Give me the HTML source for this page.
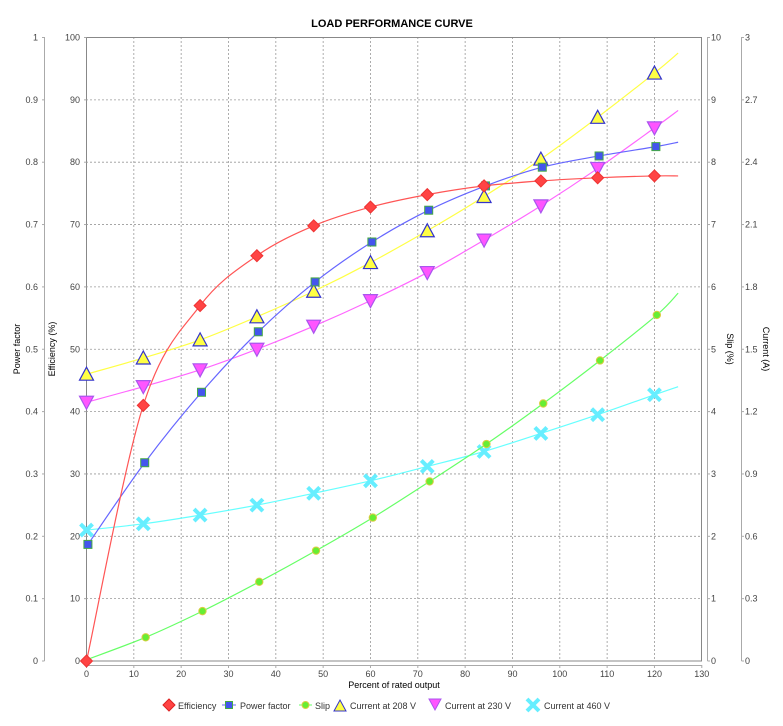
<!DOCTYPE html>
<html><head><meta charset="utf-8"><style>
body{margin:0;background:#fff;}
svg{display:block;font-family:"Liberation Sans",sans-serif;}
</style></head><body>
<svg id="s" width="783" height="726" xmlns="http://www.w3.org/2000/svg">
<rect width="783" height="726" fill="#fff"/>
<text x="392" y="27" text-anchor="middle" font-size="11" font-weight="bold">LOAD PERFORMANCE CURVE</text>
<g id="grid"></g>
<rect x="86.5" y="37.5" width="615" height="623.5" fill="none" stroke="#888"/>
<g id="axes" font-size="9" fill="#444"></g>
<text transform="translate(20,349) rotate(-90)" text-anchor="middle" font-size="9">Power factor</text>
<text transform="translate(55,349) rotate(-90)" text-anchor="middle" font-size="9">Efficiency (%)</text>
<text transform="translate(727,349) rotate(90)" text-anchor="middle" font-size="9">Slip (%)</text>
<text transform="translate(763,349) rotate(90)" text-anchor="middle" font-size="9">Current (A)</text>
<text x="394" y="688" text-anchor="middle" font-size="9">Percent of rated output</text>
<g id="series"></g>
<g font-size="9" fill="#333">
<path d="M163 705 l6 -6 l6 6 l-6 6z" fill="#f44" stroke="#d22"/>
<text x="178" y="709">Efficiency</text>
<line x1="222" y1="705" x2="236" y2="705" stroke="#66f"/><rect x="225.5" y="701.5" width="7" height="7" fill="#45e" stroke="#4a4"/>
<text x="240" y="709">Power factor</text>
<line x1="299" y1="705" x2="312" y2="705" stroke="#6f6"/><circle cx="305.5" cy="705" r="3.5" fill="#6e3" stroke="#dc4"/>
<text x="315" y="709">Slip</text>
<path d="M334 711 l6 -11 l6 11z" fill="#ff4" stroke="#33c"/>
<text x="350" y="709">Current at 208 V</text>
<path d="M429 699 l6 11 l6 -11z" fill="#f5f" stroke="#a5e"/>
<text x="445" y="709">Current at 230 V</text>
<path d="M527 699 l12 12 M539 699 l-12 12" stroke="#6ef" stroke-width="4"/>
<text x="544" y="709">Current at 460 V</text>
</g>
</svg>
<script>
const NS="http://www.w3.org/2000/svg";
const X=v=>86.5+v*4.733, Y=v=>661-v*6.235;
function el(p,tag,a,txt){const e=document.createElementNS(NS,tag);for(const k in a)e.setAttribute(k,a[k]);if(txt!==undefined)e.textContent=txt;p.appendChild(e);return e;}
const g=document.getElementById('grid'),ax=document.getElementById('axes'),se=document.getElementById('series');
for(let i=1;i<13;i++)el(g,'line',{x1:X(i*10),x2:X(i*10),y1:37,y2:661,stroke:'#999','stroke-dasharray':'2,2','stroke-width':0.8});
for(let i=1;i<10;i++)el(g,'line',{x1:86,x2:702,y1:Y(i*10),y2:Y(i*10),stroke:'#999','stroke-dasharray':'2,2','stroke-width':0.8});
// axes
el(ax,'line',{x1:44.5,x2:44.5,y1:37,y2:661,stroke:'#aaa'});
el(ax,'line',{x1:707.5,x2:707.5,y1:37,y2:661,stroke:'#aaa'});
el(ax,'line',{x1:741.5,x2:741.5,y1:37,y2:661,stroke:'#aaa'});
el(ax,'line',{x1:86,x2:702,y1:665.5,y2:665.5,stroke:'#aaa'});
const pf=['0','0.1','0.2','0.3','0.4','0.5','0.6','0.7','0.8','0.9','1'];
const cu=['0','0.3','0.6','0.9','1.2','1.5','1.8','2.1','2.4','2.7','3'];
for(let i=0;i<=10;i++){const y=Y(i*10);
 el(ax,'text',{x:38,y:y+3,'text-anchor':'end'},pf[i]);
 el(ax,'text',{x:80,y:y+3,'text-anchor':'end'},String(i*10));
 el(ax,'text',{x:711,y:y+3},String(i));
 el(ax,'text',{x:745,y:y+3},cu[i]);
 el(ax,'line',{x1:42,x2:44.5,y1:y,y2:y,stroke:'#aaa'});
 el(ax,'line',{x1:84,x2:86.5,y1:y,y2:y,stroke:'#aaa'});
 el(ax,'line',{x1:707.5,x2:710,y1:y,y2:y,stroke:'#aaa'});
 el(ax,'line',{x1:741.5,x2:744,y1:y,y2:y,stroke:'#aaa'});
}
for(let i=0;i<=13;i++){el(ax,'text',{x:X(i*10),y:677,'text-anchor':'middle'},String(i*10));el(ax,'line',{x1:X(i*10),x2:X(i*10),y1:665,y2:668,stroke:'#aaa'});}
function cr(pts){let d=`M${pts[0][0]} ${pts[0][1]}`;for(let i=0;i<pts.length-1;i++){const p0=pts[Math.max(0,i-1)],p1=pts[i],p2=pts[i+1],p3=pts[Math.min(pts.length-1,i+2)];
 d+=` C${p1[0]+(p2[0]-p0[0])/6} ${p1[1]+(p2[1]-p0[1])/6} ${p2[0]-(p3[0]-p1[0])/6} ${p2[1]-(p3[1]-p1[1])/6} ${p2[0]} ${p2[1]}`;}return d;}
const xs=[0,12,24,36,48,60,72,84,96,108,120];
function series(vals,end,col,ox,marker,start){
 const pts=[];if(start!==undefined)pts.push([X(0),Y(start)]);
 vals.forEach((v,i)=>{if(v!==null)pts.push([X(xs[i]+ox),Y(v)])});
 pts.push([X(125),Y(end)]);
 el(se,'path',{d:cr(pts),fill:'none',stroke:col,'stroke-width':1.2});
 vals.forEach((v,i)=>{if(v!==null)marker(X(xs[i]+ox),Y(v))});
}
const tri=(x,y)=>el(se,'path',{d:`M${x-7} ${y+6} L${x} ${y-7} L${x+7} ${y+6}Z`,fill:'#ff4',stroke:'#33c','stroke-width':1.2});
const itri=(x,y)=>el(se,'path',{d:`M${x-7} ${y-6} L${x} ${y+7} L${x+7} ${y-6}Z`,fill:'#f5f',stroke:'#a5e','stroke-width':1.2});
const cross=(x,y)=>el(se,'path',{d:`M${x-6} ${y-6} L${x+6} ${y+6} M${x+6} ${y-6} L${x-6} ${y+6}`,stroke:'#6ef','stroke-width':4});
const dia=(x,y)=>el(se,'path',{d:`M${x-6} ${y} L${x} ${y-6} L${x+6} ${y} L${x} ${y+6}Z`,fill:'#f44',stroke:'#e33'});
const sq=(x,y)=>el(se,'rect',{x:x-4,y:y-4,width:8,height:8,fill:'#45e',stroke:'#4a4'});
const ci=(x,y)=>el(se,'circle',{cx:x,cy:y,r:3.7,fill:'#6e3',stroke:'#dc4'});
series([46,48.6,51.5,55.2,59.3,63.9,69,74.5,80.5,87.2,94.3],97.5,'#ff4',0,tri);
series([41.5,44,46.7,50,53.7,57.8,62.3,67.5,73,79,85.5],88.3,'#f6f',0,itri);
series([21,22,23.4,25,26.9,28.9,31.2,33.6,36.5,39.5,42.7],44,'#6ff',0,cross);
series([null,3.8,8,12.7,17.7,23,28.8,34.8,41.3,48.2,55.5],59,'#6f6',0.5,ci,0.2);
series([18.7,31.8,43.1,52.8,60.8,67.2,72.3,76.2,79.2,81,82.5],83.2,'#66f',0.3,sq);
series([0,41,57,65,69.8,72.8,74.8,76.2,77,77.5,77.8],77.8,'#f55',0,dia);
</script>
</body></html>
